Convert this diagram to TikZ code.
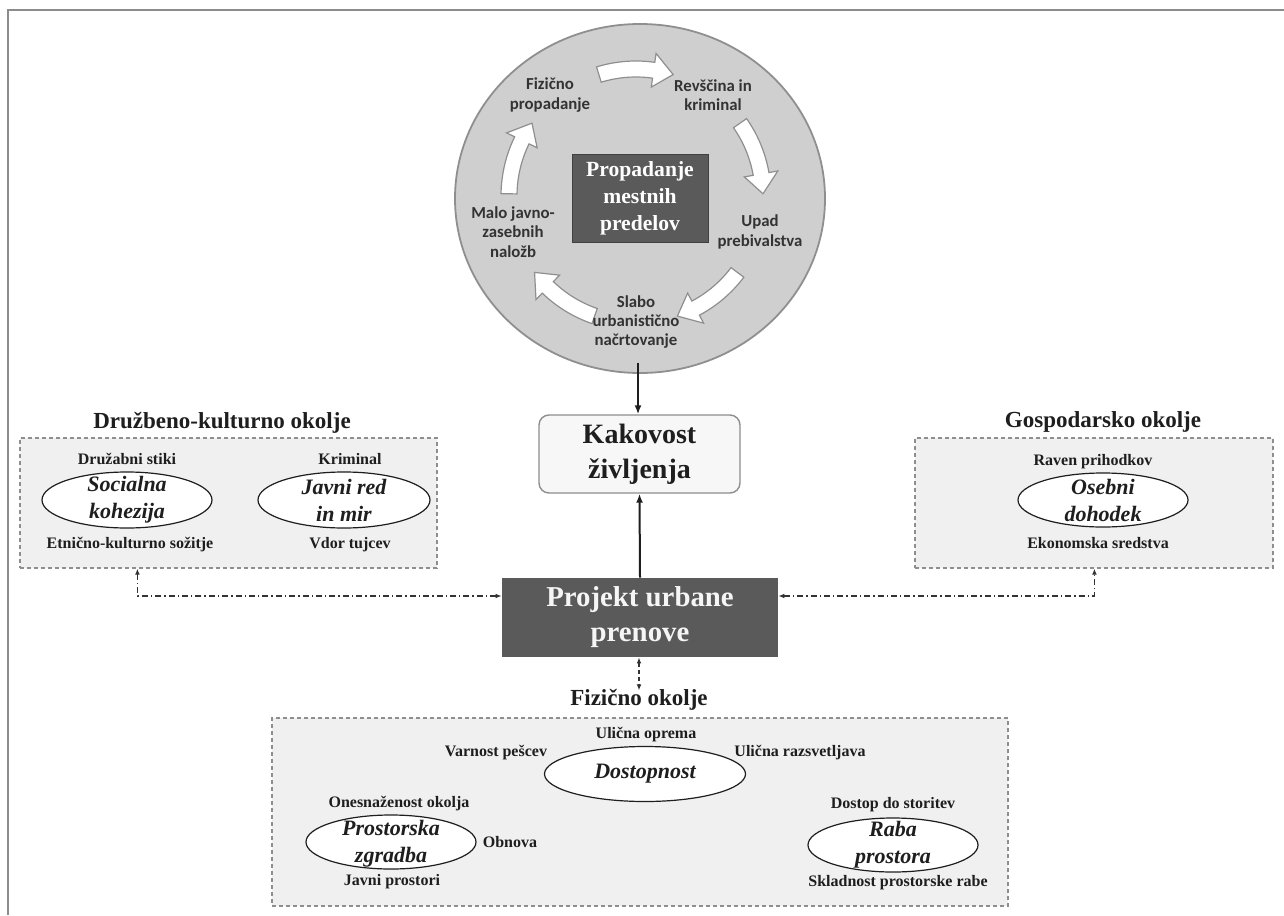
\documentclass[tikz,border=0pt]{standalone}
\usepackage{fontspec}
\setmainfont{Liberation Serif}
\newfontfamily\cyclefont{Carlito}
\usetikzlibrary{shapes.geometric,arrows.meta,calc}
\definecolor{boxfill}{HTML}{F0F0F0}
\definecolor{boxborder}{HTML}{8E8E8E}
\definecolor{circfill}{HTML}{CFCFCF}
\definecolor{circborder}{HTML}{8F8F8F}
\definecolor{darkbox}{HTML}{5A5A5A}
\definecolor{txt}{HTML}{1E1E1E}
\begin{document}
\begin{tikzpicture}[x=0.5pt,y=-0.5pt,
  envbox/.style={draw=boxborder, fill=boxfill, dash pattern=on 2pt off 1.5pt, line width=0.6pt, inner sep=0pt},
  ell/.style={ellipse, draw=txt, fill=white, line width=0.6pt, inner sep=0pt},
  elltext/.style={font=\fontsize{11}{13.5}\selectfont\bfseries\itshape, align=center, text=txt, inner sep=0pt},
  lbl/.style={font=\fontsize{8}{9.6}\selectfont\bfseries, text=txt, inner sep=0pt},
  ttl/.style={font=\fontsize{11.5}{13}\selectfont\bfseries, text=txt, inner sep=0pt},
  cyctext/.style={font=\cyclefont\fontsize{8.4}{9.6}\selectfont\bfseries, text=black!80, align=center, inner sep=0pt},
  cyarrow/.style={fill=white, draw=circborder, line width=0.6pt},
  solidarr/.style={draw=txt, line width=1pt, -{Latex[length=4.5pt,width=3.5pt]}},
  dd/.style={draw=black!80, line width=0.6pt, dash pattern=on 3pt off 1.5pt on 0.7pt off 1.5pt, {Latex[length=3pt,width=2.4pt]}-{Latex[length=3pt,width=2.4pt]}},
  dsh/.style={draw=black!80, line width=0.6pt, dash pattern=on 2pt off 1.5pt, {Latex[length=3pt,width=2.4pt]}-{Latex[length=3pt,width=2.4pt]}}
]
\useasboundingbox (0,0) rectangle (1284,915);
\fill[white] (0,0) rectangle (1284,915);
\draw[black!45, line width=1pt] (8,915) -- (8,10) -- (1284,10);

% cycle
\node[ellipse, draw=circborder, fill=circfill, line width=0.9pt, minimum width=185pt, minimum height=174.5pt, inner sep=0pt] (cyc) at (640,198.5) {};
\begin{scope}[shift={(636,196)}, yscale=-1]
\foreach \c in {90,18,-54,-126,-198}{
  \draw[cyarrow] (\c+17:135) arc[start angle=\c+17, end angle=\c-8, radius=135]
    -- (\c-8:144) -- (\c-17:127) -- (\c-8:110) -- (\c-8:119)
    arc[start angle=\c-8, end angle=\c+17, radius=119] -- cycle;
}
\end{scope}
\node[fill=darkbox, draw=black!75, line width=0.5pt, minimum width=68pt, minimum height=44pt, inner sep=0pt,
      font=\fontsize{10.8}{13.5}\selectfont\bfseries, text=white, align=center] (prop) at (640,198) {Propadanje\\mestnih\\predelov};
\node[cyctext] (c1) at (550,95) {Fizično\\propadanje};
\node[cyctext] (c2) at (713,95) {Revščina in\\kriminal};
\node[cyctext] (c3) at (760,232) {Upad\\prebivalstva};
\node[cyctext] (c4) at (636,322) {Slabo\\urbanistično\\načrtovanje};
\node[cyctext] (c5) at (513,232) {Malo javno-\\zasebnih\\naložb};

% quality of life
\node[draw=boxborder, fill=white!97!black, rounded corners=5pt, line width=0.7pt, minimum width=100.5pt, minimum height=39pt, inner sep=0pt,
      font=\fontsize{14}{17.5}\selectfont\bfseries, text=txt, align=center] (kak) at (639.5,454) {Kakovost\\življenja};

% project
\node[fill=darkbox, minimum width=138pt, minimum height=39.5pt, inner sep=0pt,
      font=\fontsize{14.4}{17.5}\selectfont\bfseries, text=white!96!black, align=center] (proj) at (640,617.5) {Projekt urbane\\prenove};

% social-cultural
\node[ttl] (socttl) at (222,423) {Družbeno-kulturno okolje};
\node[envbox, minimum width=208.5pt, minimum height=65pt] (socbox) at (228.5,503) {};
\node[lbl] (l1) at (127,459) {Družabni stiki};
\node[lbl] (l2) at (350,459) {Kriminal};
\node[ell, minimum width=85pt, minimum height=28pt] (e1) at (127,500) {};
\node[elltext] (t1) at (e1) {Socialna\\kohezija};
\node[ell, minimum width=86pt, minimum height=28pt] (e2) at (344,500) {};
\node[elltext] (t2) at (e2) {Javni red\\in mir};
\node[lbl] (l3) at (130,545) {Etnično-kulturno sožitje};
\node[lbl] (l4) at (350,545) {Vdor tujcev};

% economic
\node[ttl] (gttl) at (1103,422) {Gospodarsko okolje};
\node[envbox, minimum width=179pt, minimum height=65pt] (gbox) at (1094,503) {};
\node[lbl] (l5) at (1093,462) {Raven prihodkov};
\node[ell, minimum width=85pt, minimum height=27pt] (e3) at (1103,500) {};
\node[elltext] (t3) at (e3) {Osebni\\dohodek};
\node[lbl] (l6) at (1098,543) {Ekonomska sredstva};

% physical
\node[ttl] (fttl) at (639,700) {Fizično okolje};
\node[envbox, minimum width=368pt, minimum height=94pt] (fbox) at (640,812) {};
\node[lbl] (l7) at (646,735) {Ulična oprema};
\node[lbl] (l8) at (496,753) {Varnost pešcev};
\node[lbl] (l9) at (800,753) {Ulična razsvetljava};
\node[ell, minimum width=100.5pt, minimum height=27.5pt] (e4) at (645,774) {};
\node[elltext] (t4) at (e4) {Dostopnost};
\node[lbl] (l10) at (399,804) {Onesnaženost okolja};
\node[ell, minimum width=85pt, minimum height=27pt] (e5) at (391,842) {};
\node[elltext] (t5) at (391,843.5) {Prostorska\\zgradba};
\node[lbl] (l11) at (510,842) {Obnova};
\node[lbl] (l12) at (392,882) {Javni prostori};
\node[lbl] (l13) at (893,805) {Dostop do storitev};
\node[ell, minimum width=85pt, minimum height=27pt] (e6) at (893,845) {};
\node[elltext] (t6) at (893,845) {Raba\\prostora};
\node[lbl] (l14) at (898,883) {Skladnost prostorske rabe};

% connectors
\draw[solidarr] ($(cyc.south)+(-2,-11)$) -- ($(kak.north)+(-1.5,0)$);
\draw[solidarr] (proj.north) -- (kak.south);
\coordinate (pl) at ($(proj.west)+(0,-21.5)$);
\coordinate (pr) at ($(proj.east)+(0,-21.5)$);
\coordinate (sb) at ($(socbox.south west)+(118,0)$);
\coordinate (gb) at ($(gbox.south west)+(180,0)$);
\coordinate (fb) at ($(proj.south)+(-1,33)$);
\draw[dd] (pl) -| (sb);
\draw[dd] (pr) -| (gb);
\draw[dsh] ($(proj.south)+(-1,0)$) -- (fb);
\end{tikzpicture}
\end{document}
